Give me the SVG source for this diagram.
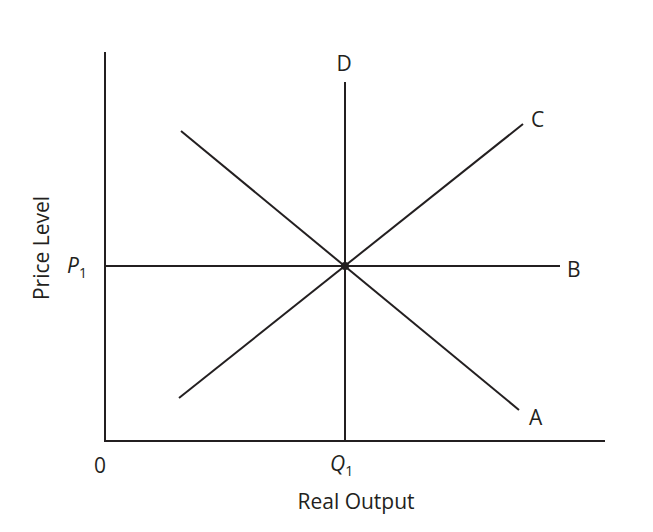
<svg xmlns="http://www.w3.org/2000/svg" width="653" height="532" viewBox="0 0 653 532">
<style>
.l{stroke:#231f20;stroke-width:2;fill:none}
text{font-family:"Open Sans","Liberation Sans",Arial,sans-serif;font-size:21px;fill:#231f20}
</style>
<rect width="653" height="532" fill="#fff"/>
<g id="axes">
<path class="l" d="M105,52V441H605"/>
<text x="100" y="473" text-anchor="middle">0</text>
<text x="356" y="509" text-anchor="middle">Real Output</text>
<text transform="translate(49,248) rotate(-90)" text-anchor="middle">Price Level</text>
<text x="67" y="273" font-style="italic">P<tspan font-size="14" font-style="normal" dy="5">1</tspan></text>
<text x="330" y="471" font-style="italic">Q<tspan font-size="14" font-style="normal" dy="5">1</tspan></text>
</g>
<g id="connectors">
<line class="l" x1="345" y1="82" x2="345" y2="441"/>
<line class="l" x1="105" y1="266" x2="560" y2="266"/>
<line class="l" x1="179" y1="398" x2="523" y2="124"/>
<line class="l" x1="181" y1="131" x2="519" y2="410"/>
</g>
<g id="D"><text x="344" y="71" text-anchor="middle">D</text></g>
<g id="C"><text x="531" y="127">C</text></g>
<g id="B"><text x="567" y="277">B</text></g>
<g id="A"><text x="529" y="425">A</text></g>
<g id="eq"><circle cx="345" cy="266" r="4" fill="#231f20"/></g>
</svg>
